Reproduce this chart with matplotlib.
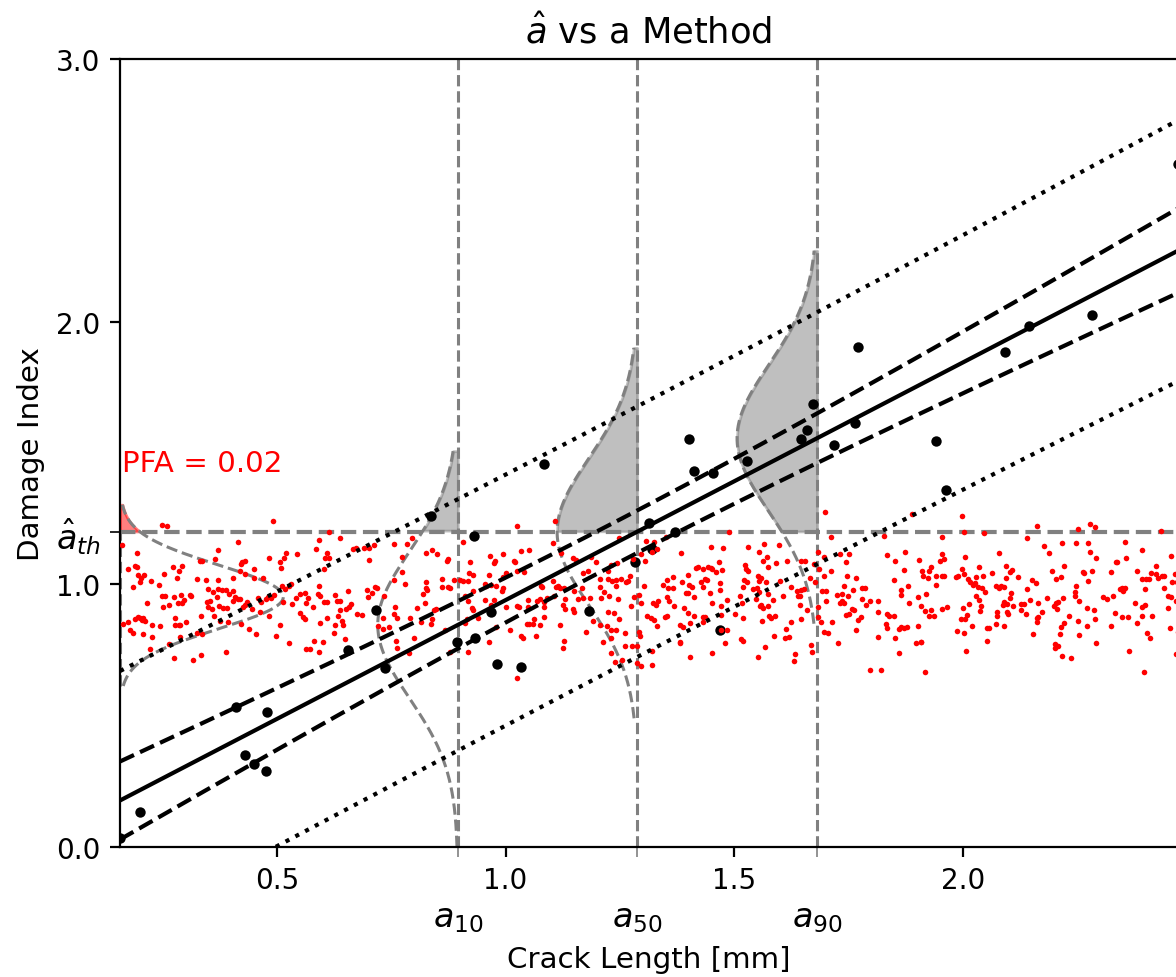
import numpy as np
import matplotlib
matplotlib.use("Agg")
import matplotlib.pyplot as plt

# a-hat vs a data: crack length [mm] and damage index of the specimens
crack = [0.157, 0.201, 0.411, 0.430, 0.450, 0.476, 0.479, 0.655, 0.717, 0.736,
         0.836, 0.894, 0.932, 0.933, 0.967, 0.982, 1.034, 1.084, 1.182, 1.283,
         1.314, 1.319, 1.370, 1.402, 1.411, 1.453, 1.469, 1.528, 1.646, 1.658,
         1.673, 1.719, 1.764, 1.770, 1.942, 1.962, 2.092, 2.145, 2.283, 2.470]
damage = [0.034, 0.133, 0.534, 0.351, 0.317, 0.289, 0.513, 0.750, 0.903, 0.680,
          1.261, 0.779, 1.185, 0.796, 0.896, 0.697, 0.685, 1.459, 0.898, 1.084,
          1.235, 1.134, 1.198, 1.555, 1.432, 1.424, 0.827, 1.470, 1.553, 1.586,
          1.686, 1.531, 1.616, 1.904, 1.546, 1.360, 1.883, 1.985, 2.027, 2.600]

noise_points = [
    (0.248, 1.227), (0.259, 1.223), (0.492, 1.241), (0.613, 1.201), (0.637, 1.177), (0.591, 1.168),
    (0.162, 1.149), (0.416, 1.161), (0.195, 1.118), (0.372, 1.132), (0.332, 1.089), (0.336, 1.089),
    (0.365, 1.095), (0.451, 1.060), (0.482, 1.099), (0.507, 1.086), (0.515, 1.100), (0.520, 1.118),
    (0.545, 1.116), (0.585, 1.135), (0.610, 1.118), (0.605, 1.100), (0.615, 1.100), (0.603, 1.059),
    (0.510, 1.061), (0.421, 1.078), (0.424, 1.084), (0.431, 1.090), (0.420, 1.052), (0.431, 1.039),
    (0.470, 1.025), (0.449, 1.024), (0.702, 1.137), (0.701, 1.092), (0.673, 1.138), (0.666, 1.135),
    (0.691, 1.137), (0.713, 1.149), (0.190, 1.071), (0.194, 1.065), (0.175, 1.059), (0.197, 1.036),
    (0.210, 1.036), (0.204, 1.023), (0.201, 1.010), (0.224, 1.014), (0.185, 0.991), (0.242, 0.998),
    (0.253, 1.041), (0.272, 1.067), (0.287, 1.051), (0.292, 1.069), (0.281, 1.024), (0.325, 1.019),
    (0.344, 1.015), (0.372, 1.015), (0.404, 1.023), (0.371, 0.982), (0.350, 0.982), (0.361, 0.971),
    (0.380, 0.979), (0.388, 0.979), (0.403, 0.976), (0.395, 0.962), (0.369, 0.951), (0.354, 0.938),
    (0.347, 0.932), (0.350, 0.915), (0.358, 0.906), (0.373, 0.916), (0.382, 0.909), (0.391, 0.909),
    (0.409, 0.951), (0.414, 0.944), (0.420, 0.944), (0.405, 0.938), (0.431, 0.921), (0.426, 0.915),
    (0.434, 0.932), (0.458, 0.949), (0.466, 0.934), (0.445, 0.906), (0.464, 0.894), (0.480, 0.951),
    (0.488, 0.948), (0.477, 0.944), (0.494, 0.960), (0.512, 0.993), (0.526, 0.993), (0.531, 1.000),
    (0.517, 0.982), (0.542, 0.948), (0.551, 0.963), (0.561, 0.967), (0.568, 0.947), (0.563, 0.930),
    (0.578, 0.913), (0.589, 0.962), (0.595, 0.957), (0.593, 0.993), (0.604, 0.934), (0.610, 0.934),
    (0.632, 0.938), (0.637, 0.938), (0.626, 0.961), (0.656, 0.976), (0.661, 0.924), (0.658, 0.913),
    (0.651, 0.906), (0.639, 0.904), (0.633, 0.881), (0.610, 0.872), (0.643, 0.862), (0.644, 0.845),
    (0.626, 0.847), (0.594, 0.852), (0.557, 0.875), (0.561, 0.868), (0.550, 0.892), (0.534, 0.927),
    (0.514, 0.933), (0.624, 0.815), (0.648, 0.792), (0.675, 0.887), (0.685, 0.882), (0.699, 0.953),
    (0.697, 0.979), (0.715, 0.991), (0.719, 0.986), (0.708, 0.966), (0.734, 0.956), (0.722, 0.843),
    (0.732, 0.830), (0.745, 0.836), (0.731, 0.872), (0.215, 0.929), (0.249, 0.954), (0.255, 0.954),
    (0.274, 0.953), (0.291, 0.961), (0.309, 0.961), (0.312, 0.954), (0.297, 0.940), (0.283, 0.929),
    (0.293, 0.928), (0.252, 0.913), (0.265, 0.921), (0.175, 0.858), (0.190, 0.868), (0.196, 0.875),
    (0.201, 0.871), (0.205, 0.864), (0.208, 0.872), (0.212, 0.862), (0.163, 0.849), (0.179, 0.826),
    (0.185, 0.814), (0.207, 0.811), (0.228, 0.845), (0.244, 0.840), (0.228, 0.801), (0.278, 0.871),
    (0.277, 0.847), (0.285, 0.847), (0.289, 0.845), (0.302, 0.855), (0.334, 0.881), (0.363, 0.881),
    (0.376, 0.862), (0.394, 0.855), (0.421, 0.848), (0.438, 0.830), (0.454, 0.811), (0.288, 0.801),
    (0.325, 0.814), (0.336, 0.811), (0.264, 0.773), (0.223, 0.754), (0.274, 0.721), (0.316, 0.713),
    (0.335, 0.730), (0.389, 0.743), (0.506, 0.847), (0.497, 0.802), (0.526, 0.776), (0.563, 0.754),
    (0.572, 0.754), (0.582, 0.786), (0.600, 0.782), (0.592, 0.744), (0.482, 0.881),
    # 0.75 - 1.34
    (1.025, 1.221), (1.109, 1.240), (0.907, 1.160), (0.757, 1.154), (0.785, 1.154), (0.795, 1.175),
    (0.826, 1.118), (0.840, 1.132), (0.849, 1.116), (0.774, 1.103), (0.873, 1.097), (0.871, 1.089),
    (0.922, 1.084), (0.965, 1.109), (0.976, 1.089), (0.974, 1.080), (0.994, 1.116), (1.018, 1.088),
    (1.021, 1.084), (1.033, 1.128), (1.052, 1.131), (1.041, 1.048), (1.024, 1.050), (1.000, 1.043),
    (0.995, 1.029), (0.964, 1.037), (0.954, 1.000), (0.920, 1.043), (0.929, 1.037), (0.917, 1.012),
    (0.901, 1.017), (0.907, 1.014), (0.887, 1.017), (0.874, 0.991), (0.878, 0.985), (0.860, 1.019),
    (0.860, 0.989), (0.826, 0.985), (0.825, 1.008), (0.829, 0.977), (0.819, 0.963), (0.774, 1.047),
    (0.779, 1.003), (0.757, 1.018), (0.806, 0.910), (0.823, 0.929), (0.847, 0.906), (0.843, 0.901),
    (0.836, 0.848), (0.839, 0.868), (0.815, 0.857), (0.792, 0.871), (0.763, 0.871), (0.759, 0.915),
    (0.756, 0.887), (0.760, 0.786), (0.763, 0.756), (0.800, 0.795), (0.788, 0.739), (0.867, 0.828),
    (0.879, 0.744), (0.917, 0.741), (0.964, 0.779), (0.978, 0.839), (0.926, 0.909), (0.928, 0.902),
    (0.916, 0.867), (0.911, 0.852), (0.939, 0.873), (0.917, 0.938), (0.911, 0.957), (0.929, 0.973),
    (0.955, 0.941), (0.974, 0.941), (0.969, 0.921), (0.958, 0.995), (0.969, 0.998), (0.979, 0.993),
    (0.993, 0.976), (0.995, 0.985), (1.001, 0.915), (1.024, 0.916), (1.030, 0.915), (1.009, 0.826),
    (1.034, 0.802), (1.038, 0.795), (1.046, 0.848), (1.052, 0.849), (1.060, 0.848), (1.066, 0.805),
    (1.075, 0.845), (1.063, 0.868), (1.084, 0.875), (1.085, 0.915), (1.091, 0.947), (1.084, 0.932),
    (1.069, 0.937), (1.075, 0.944), (1.049, 0.942), (1.048, 0.914), (1.077, 0.993), (1.080, 0.989),
    (1.104, 1.013), (1.106, 0.957), (1.111, 0.991), (1.114, 0.993), (1.119, 0.985), (1.127, 0.985),
    (1.130, 0.944), (1.125, 0.921), (1.147, 0.906), (1.130, 0.906), (1.150, 0.976), (1.167, 0.987),
    (1.170, 0.949), (1.185, 0.949), (1.158, 0.944), (1.175, 0.820), (1.128, 0.786), (1.126, 0.756),
    (1.120, 0.845), (1.147, 1.099), (1.153, 1.093), (1.122, 1.121), (1.104, 1.157), (1.187, 1.104),
    (1.197, 1.086), (1.180, 1.052), (1.170, 1.042), (1.230, 1.074), (1.243, 1.080), (1.223, 1.051),
    (1.249, 1.178), (1.279, 1.097), (1.295, 1.116), (1.304, 1.090), (1.306, 1.165), (1.325, 1.163),
    (1.332, 1.135), (1.319, 1.122), (1.206, 1.019), (1.223, 1.020), (1.233, 1.012), (1.241, 1.017),
    (1.253, 1.019), (1.268, 1.014), (1.271, 1.031), (1.263, 1.008), (1.241, 0.995), (1.215, 0.970),
    (1.207, 0.989), (1.208, 0.947), (1.227, 0.957), (1.245, 0.944), (1.275, 0.916), (1.296, 0.929),
    (1.303, 0.993), (1.281, 0.953), (1.292, 0.958), (1.323, 0.929), (1.329, 0.921), (1.334, 0.938),
    (1.310, 0.881), (1.317, 0.871), (1.324, 0.866), (1.332, 0.843), (1.292, 0.817), (1.294, 0.803),
    (1.260, 0.815), (1.241, 0.828), (1.231, 0.828), (1.221, 0.843), (1.224, 0.894), (1.236, 0.890),
    (1.248, 0.868), (1.206, 0.845), (1.191, 0.862), (1.230, 0.795), (1.213, 0.779), (1.231, 0.739),
    (1.262, 0.765), (1.276, 0.767), (1.288, 0.767), (1.321, 0.748), (1.239, 0.704), (1.254, 0.711),
    (1.288, 0.701), (1.321, 0.693), (1.297, 0.689), (1.025, 0.644), (1.150, 0.896),
    # 1.34 - 1.91
    (1.699, 1.276), (1.489, 1.201), (1.350, 1.182), (1.711, 1.179), (1.828, 1.185), (1.889, 1.268),
    (1.384, 1.118), (1.450, 1.144), (1.476, 1.138), (1.531, 1.144), (1.553, 1.122), (1.566, 1.152),
    (1.598, 1.149), (1.571, 1.103), (1.563, 1.088), (1.615, 1.090), (1.574, 1.067), (1.592, 1.080),
    (1.645, 1.088), (1.654, 1.089), (1.683, 1.122), (1.696, 1.103), (1.712, 1.052), (1.731, 1.116),
    (1.750, 1.116), (1.745, 1.084), (1.747, 1.031), (1.767, 1.024), (1.833, 1.112), (1.851, 1.089),
    (1.873, 1.122), (1.872, 1.055), (1.849, 1.018), (1.904, 1.093), (1.880, 0.995), (1.864, 0.980),
    (1.865, 0.961), (1.902, 0.953), (1.882, 0.928), (1.908, 0.919), (1.352, 1.017), (1.365, 1.029),
    (1.386, 1.010), (1.398, 1.036), (1.417, 1.062), (1.420, 1.065), (1.431, 1.059), (1.442, 1.065),
    (1.448, 1.062), (1.451, 1.059), (1.461, 1.046), (1.466, 1.086), (1.474, 1.056), (1.441, 1.017),
    (1.436, 1.019), (1.428, 1.008), (1.431, 0.991), (1.407, 0.991), (1.400, 0.998), (1.398, 0.966),
    (1.394, 0.967), (1.412, 0.953), (1.367, 0.985), (1.344, 0.998), (1.356, 0.985), (1.352, 0.952),
    (1.358, 0.938), (1.368, 0.918), (1.391, 0.911), (1.398, 0.892), (1.412, 0.878), (1.353, 0.878),
    (1.349, 0.875), (1.431, 0.875), (1.435, 0.875), (1.447, 0.967), (1.468, 1.005), (1.468, 0.980),
    (1.451, 0.928), (1.470, 0.916), (1.471, 0.885), (1.484, 0.942), (1.512, 0.954), (1.517, 0.929),
    (1.502, 0.886), (1.520, 0.873), (1.524, 1.074), (1.526, 1.059), (1.530, 1.051), (1.521, 1.017),
    (1.527, 1.008), (1.520, 0.991), (1.541, 0.982), (1.552, 1.031), (1.559, 1.026), (1.554, 1.013),
    (1.550, 0.986), (1.555, 0.970), (1.548, 0.944), (1.559, 0.921), (1.556, 0.916), (1.563, 0.911),
    (1.570, 1.008), (1.574, 0.965), (1.574, 0.919), (1.585, 0.942), (1.576, 0.880), (1.581, 0.873),
    (1.590, 0.878), (1.561, 0.859), (1.600, 1.014), (1.607, 0.957), (1.625, 0.990), (1.636, 0.975),
    (1.640, 0.957), (1.644, 0.957), (1.645, 0.977), (1.652, 0.981), (1.644, 0.921), (1.660, 0.901),
    (1.666, 1.026), (1.676, 1.008), (1.674, 1.078), (1.685, 1.060), (1.695, 1.033), (1.692, 0.973),
    (1.701, 0.973), (1.701, 0.938), (1.713, 0.858), (1.683, 0.913), (1.683, 0.877), (1.690, 0.858),
    (1.645, 0.868), (1.625, 0.855), (1.612, 0.830), (1.620, 0.801), (1.611, 0.795), (1.587, 0.802),
    (1.568, 0.763), (1.552, 0.722), (1.514, 0.792), (1.519, 0.786), (1.480, 0.777), (1.451, 0.737),
    (1.403, 0.722), (1.381, 0.776), (1.382, 0.782), (1.381, 0.845), (1.387, 0.836), (1.404, 0.853),
    (1.432, 0.855), (1.470, 0.826), (1.483, 0.826), (1.695, 0.817), (1.705, 0.815), (1.727, 0.777),
    (1.667, 0.770), (1.669, 0.741), (1.632, 0.735), (1.630, 0.707), (1.724, 0.958), (1.735, 0.963),
    (1.736, 0.938), (1.739, 0.928), (1.731, 0.928), (1.744, 0.883), (1.750, 0.887), (1.758, 0.906),
    (1.761, 0.904), (1.770, 0.864), (1.777, 0.875), (1.765, 0.828), (1.787, 0.921), (1.779, 0.944),
    (1.796, 0.938), (1.815, 0.938), (1.815, 0.894), (1.833, 0.887), (1.838, 0.878), (1.849, 0.880),
    (1.831, 0.849), (1.833, 0.833), (1.861, 0.830), (1.865, 0.836), (1.871, 0.834), (1.878, 0.836),
    (1.902, 0.840), (1.815, 0.800), (1.851, 0.795), (1.860, 0.737), (1.898, 0.776), (1.909, 0.782),
    (1.796, 0.673), (1.820, 0.675), (1.785, 0.985), (1.780, 0.985), (1.760, 0.979), (1.740, 0.993),
    (1.749, 0.957),
    # 1.91 - 2.47
    (1.997, 1.262), (2.002, 1.199), (2.045, 1.194), (2.161, 1.222), (2.251, 1.210), (2.278, 1.231),
    (2.288, 1.217), (2.432, 1.204), (1.954, 1.180), (2.140, 1.175), (2.176, 1.147), (2.189, 1.118),
    (2.216, 1.159), (2.246, 1.157), (2.273, 1.157), (2.355, 1.161), (2.278, 1.122), (2.392, 1.132),
    (2.455, 1.108), (1.954, 1.116), (1.949, 1.089), (1.959, 1.097), (2.005, 1.105), (2.079, 1.121),
    (2.290, 1.102), (2.356, 1.102), (2.337, 1.084), (2.421, 1.071), (2.380, 1.051), (1.911, 1.052),
    (1.925, 1.052), (1.930, 1.066), (1.913, 1.033), (1.924, 1.026), (1.941, 1.033), (1.954, 1.032),
    (1.959, 1.033), (1.942, 0.998), (1.918, 0.963), (1.916, 0.900), (1.925, 0.878), (1.937, 0.880),
    (1.931, 0.901), (1.954, 0.906), (1.964, 0.914), (1.984, 1.029), (1.989, 1.033), (1.997, 1.059),
    (2.002, 1.040), (2.011, 1.019), (2.016, 1.008), (2.021, 0.999), (2.027, 1.004), (2.029, 1.028),
    (2.036, 1.065), (2.044, 1.031), (2.033, 0.989), (2.042, 0.987), (2.048, 0.972), (2.029, 0.954),
    (2.034, 0.939), (2.040, 0.918), (2.037, 0.900), (2.013, 0.925), (1.999, 0.911), (2.008, 0.885),
    (2.004, 0.868), (1.995, 0.869), (2.002, 0.814), (1.986, 0.822), (2.019, 0.840), (2.006, 0.748),
    (2.064, 1.042), (2.073, 0.993), (2.079, 0.985), (2.084, 0.993), (2.090, 0.989), (2.094, 1.026),
    (2.094, 1.069), (2.102, 1.046), (2.108, 1.056), (2.121, 1.027), (2.105, 0.966), (2.102, 0.949),
    (2.090, 0.932), (2.088, 0.923), (2.097, 0.924), (2.109, 0.919), (2.097, 0.894), (2.099, 0.888),
    (2.074, 0.894), (2.075, 0.881), (2.072, 0.848), (2.089, 0.840), (2.056, 0.834), (2.052, 0.833),
    (2.052, 0.786), (2.127, 0.925), (2.133, 0.925), (2.126, 0.904), (2.137, 0.886), (2.146, 0.942),
    (2.151, 1.017), (2.159, 1.005), (2.140, 0.982), (2.164, 0.929), (2.165, 0.877), (2.161, 0.872),
    (2.162, 0.855), (2.173, 0.894), (2.154, 0.810), (2.195, 1.050), (2.203, 1.020), (2.214, 1.028),
    (2.221, 1.069), (2.183, 0.949), (2.203, 0.929), (2.208, 0.932), (2.200, 0.916), (2.205, 0.906),
    (2.219, 0.947), (2.214, 0.839), (2.212, 0.811), (2.220, 0.853), (2.232, 0.881), (2.202, 0.773),
    (2.207, 0.765), (2.201, 0.759), (2.216, 0.729), (2.237, 0.718), (2.244, 0.957), (2.245, 0.970),
    (2.248, 0.994), (2.253, 0.937), (2.251, 0.859), (2.254, 0.809), (2.265, 1.042), (2.263, 1.047),
    (2.274, 1.013), (2.272, 0.909), (2.281, 1.052), (2.286, 0.902), (2.289, 0.868), (2.270, 0.840),
    (2.290, 0.776), (2.306, 0.951), (2.314, 0.944), (2.327, 0.954), (2.323, 1.047), (2.335, 1.086),
    (2.343, 0.982), (2.347, 0.986), (2.355, 0.985), (2.349, 0.973), (2.332, 0.892), (2.324, 0.843),
    (2.347, 0.877), (2.360, 0.877), (2.362, 0.745), (2.375, 0.928), (2.392, 1.019), (2.398, 0.982),
    (2.400, 1.020), (2.406, 1.020), (2.410, 1.043), (2.391, 0.913), (2.398, 0.921), (2.392, 0.881),
    (2.413, 0.881), (2.381, 0.854), (2.403, 0.814), (2.408, 0.795), (2.396, 0.665), (2.422, 1.038),
    (2.427, 1.023), (2.435, 1.031), (2.439, 1.031), (2.440, 0.985), (2.448, 0.954), (2.454, 0.953),
    (2.449, 0.910), (2.456, 1.009), (2.464, 1.038), (2.467, 1.007), (2.465, 0.938), (2.452, 0.833),
    (2.469, 0.820), (2.465, 0.734), (1.917, 0.665), (1.909, 0.779),
]

# model values
b0, b1 = 0.035, 0.905          # a-hat = b0 + b1 * a
tau = 0.278                     # residual std of a-hat
a_th = 1.2                      # detection threshold
pod_a = [0.8955, 1.2876, 1.681]           # a10, a50, a90
pod_labels = [r"$a_{10}$", r"$a_{50}$", r"$a_{90}$"]
pdf_lo = [0.0, 0.49, 0.85]                # a-hat extent of the drawn pdfs
pdf_hi = [1.507, 1.90, 2.27]
noise_mu, noise_sd = 0.952, 0.121
noise_lo, noise_hi = 0.613, 1.303
pfa = 0.02
conf_A, conf_B, conf_m = 0.0065, 0.013, 1.25   # confidence band on the fit
pred_c = 0.47                                   # prediction band half-width

noise = np.array(noise_points)
xmin, xmax = min(crack), max(crack)

fig = plt.figure(figsize=(5.88, 4.89), dpi=200)
ax = fig.add_axes([120 / 1176, 130 / 978, 1058 / 1176, 788 / 978])

# PoD distributions at a10 / a50 / a90
for a, lo, hi in zip(pod_a, pdf_lo, pdf_hi):
    mu = b0 + b1 * a
    yy = np.linspace(lo, hi, 300)
    xx = a - 0.175 * np.exp(-0.5 * ((yy - mu) / tau) ** 2)
    ax.plot(xx, yy, "--", color="gray", lw=1.1, zorder=2)
    m = yy >= a_th
    ax.fill_betweenx(yy[m], xx[m], a, color="gray", alpha=0.5, zorder=1)
    ax.axvline(a, ls="--", color="gray", lw=1.1, zorder=2)

# noise distribution at the left edge
yy = np.linspace(noise_lo, noise_hi, 300)
xx = xmin + 0.357 * np.exp(-0.5 * ((yy - noise_mu) / noise_sd) ** 2)
ax.plot(xx, yy, "--", color="gray", lw=1.1, zorder=2)
ax.plot([xmin, xmin], [noise_lo, a_th], "--", color="gray", lw=1.1, zorder=2)
m = yy >= a_th
ax.fill_betweenx(yy[m], xmin, xx[m], color="red", alpha=0.5, zorder=1)

ax.axhline(a_th, ls="--", color="gray", lw=1.5, zorder=2)

ax.scatter(crack, damage, s=14, color="black", lw=0, zorder=3)
ax.scatter(noise[:, 0], noise[:, 1], s=4, color="red", lw=0, zorder=4)

xs = np.linspace(xmin, xmax, 300)
fit = b0 + b1 * xs
conf = np.sqrt(conf_A + conf_B * (xs - conf_m) ** 2)
pred = np.sqrt(pred_c ** 2 + conf ** 2)
ax.plot(xs, fit, "k-", lw=1.5, zorder=5)
ax.plot(xs, fit + conf, "k--", lw=1.5, zorder=5)
ax.plot(xs, fit - conf, "k--", lw=1.5, zorder=5)
ax.plot(xs, fit + pred, "k:", lw=1.5, zorder=5)
ax.plot(xs, fit - pred, "k:", lw=1.5, zorder=5)

ax.text(xmin + 0.004, 1.43, f"PFA = {pfa}", color="red", fontsize=10.6)

ax.set_xlim(xmin, xmax)
ax.set_ylim(0, 3)
ax.set_xticks([0.5, 1.0, 1.5, 2.0])
ax.set_xticks(pod_a, minor=True)
ax.set_xticklabels(pod_labels, minor=True)
ax.set_yticks([0, 1, 2, 3])
ax.set_yticklabels(["0.0", "1.0", "2.0", "3.0"])
ax.set_yticks([a_th], minor=True)
ax.set_yticklabels([r"$\hat{a}_{th}$"], minor=True)
ax.tick_params(labelsize=10)
ax.tick_params(axis="x", which="minor", length=3.5, color="gray", pad=16, labelsize=12)
ax.tick_params(axis="y", which="minor", length=3.5, labelsize=12)

ax.set_xlabel("Crack Length [mm]", fontsize=10.6)
ax.set_ylabel("Damage Index", fontsize=10.6)
ax.set_title(r"$\hat{a}$ vs a Method", fontsize=12.7)

fig.savefig("out.png", dpi=200)
